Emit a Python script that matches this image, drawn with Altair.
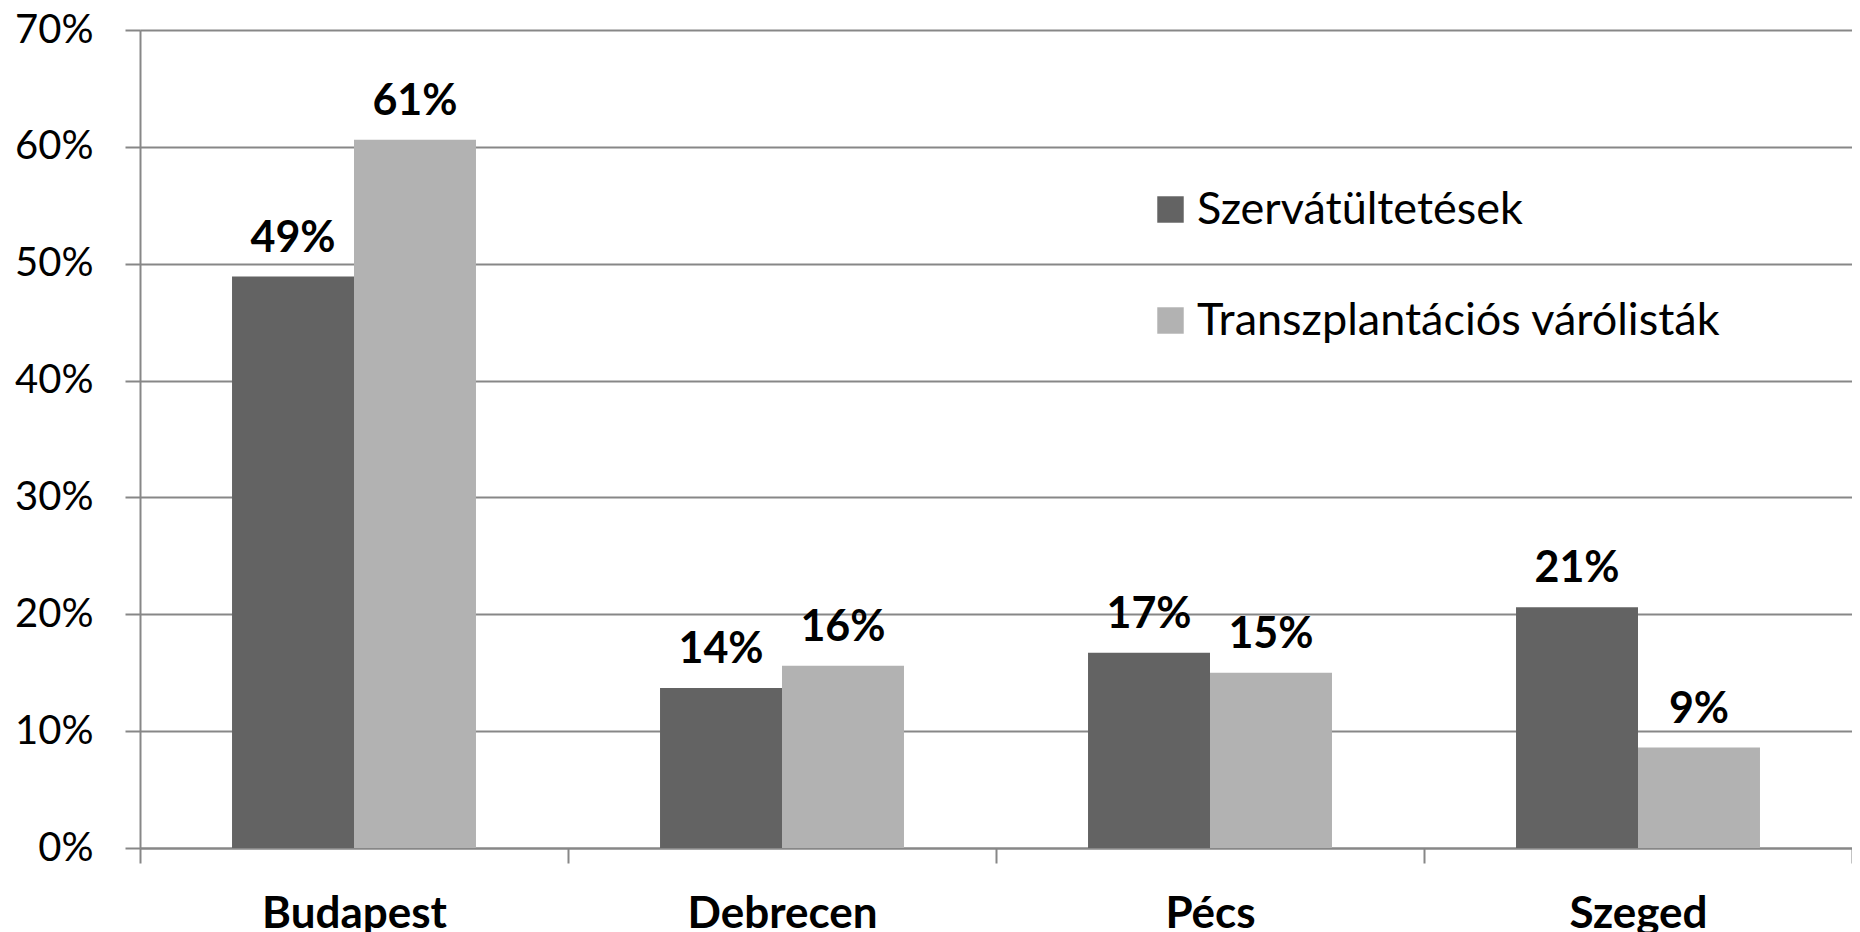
import altair as alt
import pandas as pd

cities = ["Budapest", "Debrecen", "Pécs", "Szeged"]
series = ["Szervátültetések", "Transzplantációs várólisták"]
szerv = [0.489, 0.137, 0.167, 0.206]
varo = [0.606, 0.156, 0.150, 0.086]
colors = ["#636363", "#b2b2b2"]

rows = []
for i, c in enumerate(cities):
    rows.append({"city": c, "series": series[0], "value": szerv[i]})
    rows.append({"city": c, "series": series[1], "value": varo[i]})
df = pd.DataFrame(rows)

FONT = "Lato"
GRID = "#878787"

x = alt.X(
    "city:N",
    sort=cities,
    title=None,
    scale=alt.Scale(paddingInner=0, paddingOuter=0),
    axis=alt.Axis(
        tickBand="extent",
        labelAngle=0,
        labelFont=FONT,
        labelFontSize=44,
        labelFontWeight="bold",
        labelColor="#000000",
        labelPadding=29,
        labelLimit=500,
        tickSize=15,
        tickColor=GRID,
        tickWidth=2,
        domainColor=GRID,
        domainWidth=2,
        grid=False,
    ),
)
y = alt.Y(
    "value:Q",
    title=None,
    scale=alt.Scale(domain=[0, 0.7]),
    axis=alt.Axis(
        values=[0, 0.1, 0.2, 0.3, 0.4, 0.5, 0.6, 0.7],
        format=".0%",
        labelFont=FONT,
        labelFontSize=40,
        labelColor="#000000",
        labelPadding=32,
        tickSize=15,
        tickColor=GRID,
        tickWidth=2,
        domainColor=GRID,
        domainWidth=2,
        grid=True,
        gridColor=GRID,
        gridWidth=2,
    ),
)

color = alt.Color(
    "series:N",
    sort=series,
    scale=alt.Scale(domain=series, range=colors),
    legend=alt.Legend(
        title=None,
        orient="none",
        legendX=1008,
        legendY=157,
        symbolType="square",
        symbolSize=700,
        symbolStrokeWidth=0,
        symbolOpacity=1,
        labelFont=FONT,
        labelFontSize=45,
        labelColor="#000000",
        labelOffset=4,
        rowPadding=65,
        padding=0,
        labelLimit=600,
    ),
)

xoff_scale = alt.Scale(paddingInner=0, paddingOuter=0.7544)

bars = alt.Chart(df).mark_bar().encode(
    x=x,
    xOffset=alt.XOffset("series:N", sort=series, scale=xoff_scale),
    y=y,
    color=color,
)

labels = alt.Chart(df).mark_text(
    font=FONT, fontSize=43, fontWeight="bold", color="#000000", baseline="alphabetic", dy=-25
).encode(
    x=alt.X("city:N", sort=cities),
    xOffset=alt.XOffset("series:N", sort=series),
    y=alt.Y("value:Q"),
    text=alt.Text("value:Q", format=".0%"),
)

chart = (
    alt.layer(bars, labels)
    .properties(
        width=1712,
        height=818,
        autosize=alt.AutoSizeParams(type="none"),
        padding={"left": 132, "top": 22, "right": 0, "bottom": 84},
    )
    .configure_view(stroke=None)
    .configure(background="#ffffff")
)

chart.save("out.html", embed_options={"renderer": "svg", "actions": False})
